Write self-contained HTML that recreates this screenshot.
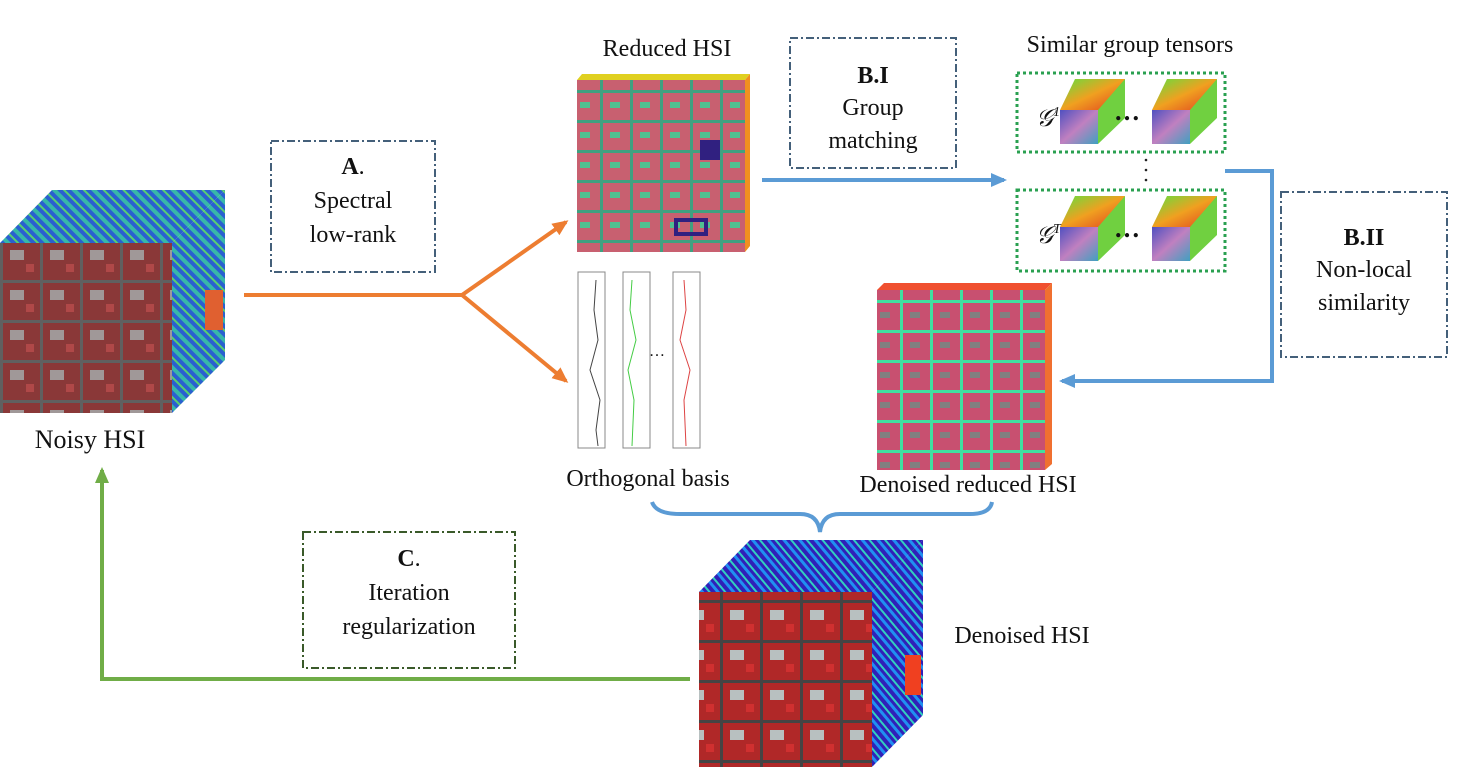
<!DOCTYPE html>
<html><head><meta charset="utf-8"><style>
html,body{margin:0;padding:0;background:#fff;}
svg text{font-family:"Liberation Serif",serif;fill:#111;}
</style></head><body>
<svg width="1466" height="767" viewBox="0 0 1466 767" xmlns="http://www.w3.org/2000/svg">
<defs>
<pattern id="stripes" width="14" height="14" patternUnits="userSpaceOnUse" patternTransform="rotate(-45)">
<rect width="14" height="14" fill="#2a60d0"/><rect width="4" height="14" fill="#38b8a8"/><rect x="8" width="2" height="14" fill="#58d070"/></pattern>
<pattern id="stripes2" width="12" height="12" patternUnits="userSpaceOnUse" patternTransform="rotate(-40)">
<rect width="12" height="12" fill="#3020b8"/><rect width="3" height="12" fill="#2090f0"/><rect x="6" width="2" height="12" fill="#30d0c0"/></pattern>
<pattern id="city" width="40" height="40" patternUnits="userSpaceOnUse">
<rect width="40" height="40" fill="#8a3838"/><rect x="0" y="0" width="40" height="3" fill="#606060"/><rect x="0" y="0" width="3" height="40" fill="#606060"/><rect x="10" y="10" width="14" height="10" fill="#a09898"/><rect x="26" y="24" width="8" height="8" fill="#b04848"/></pattern>
<pattern id="city2" width="40" height="40" patternUnits="userSpaceOnUse">
<rect width="40" height="40" fill="#b02828"/><rect x="0" y="0" width="40" height="3" fill="#444"/><rect x="0" y="0" width="3" height="40" fill="#444"/><rect x="10" y="10" width="14" height="10" fill="#b8c0c0"/><rect x="26" y="24" width="8" height="8" fill="#d03030"/></pattern>
<pattern id="red" width="30" height="30" patternUnits="userSpaceOnUse">
<rect width="30" height="30" fill="#c86070"/><rect width="30" height="3" fill="#40a080"/><rect width="3" height="30" fill="#40a080"/><rect x="10" y="12" width="10" height="6" fill="#50c090"/></pattern>
<pattern id="red2" width="30" height="30" patternUnits="userSpaceOnUse">
<rect width="30" height="30" fill="#c85070"/><rect width="30" height="3" fill="#40e0a0"/><rect width="3" height="30" fill="#40e0a0"/><rect x="10" y="12" width="10" height="6" fill="#808080"/></pattern>
<linearGradient id="cubeTop" x1="0" y1="0" x2="1" y2="1"><stop offset="0" stop-color="#60e040"/><stop offset="0.5" stop-color="#f0a020"/><stop offset="1" stop-color="#e04020"/></linearGradient>
<linearGradient id="cubeFront" x1="0" y1="0" x2="1" y2="1"><stop offset="0" stop-color="#5050c0"/><stop offset="0.5" stop-color="#c080c0"/><stop offset="1" stop-color="#40a0c0"/></linearGradient>
<marker id="ao" markerWidth="16" markerHeight="14" refX="13" refY="7" orient="auto" markerUnits="userSpaceOnUse"><path d="M0,0 L16,7 L0,14z" fill="#ed7d31"/></marker>
<marker id="ab" markerWidth="16" markerHeight="14" refX="13" refY="7" orient="auto" markerUnits="userSpaceOnUse"><path d="M0,0 L16,7 L0,14z" fill="#5b9bd5"/></marker>
<marker id="ag" markerWidth="16" markerHeight="14" refX="13" refY="7" orient="auto" markerUnits="userSpaceOnUse"><path d="M0,0 L16,7 L0,14z" fill="#70ad47"/></marker>
</defs>

<polygon points="0,243 52,190 225,190 172,243" fill="url(#stripes)"/>
<polygon points="172,243 225,190 225,360 172,413" fill="url(#stripes)"/>
<rect x="0" y="243" width="172" height="170" fill="url(#city)"/>
<rect x="205" y="290" width="18" height="40" fill="#e06030"/>
<text x="90" y="448" font-size="26" text-anchor="middle">Noisy HSI</text>

<rect x="271" y="141" width="164" height="131" fill="none" stroke="#44607a" stroke-width="2" stroke-dasharray="8,3,2,3"/>
<text x="353" y="174" font-size="24" text-anchor="middle"><tspan font-weight="bold">A</tspan>.</text>
<text x="353" y="208" font-size="24" text-anchor="middle">Spectral</text>
<text x="353" y="242" font-size="24" text-anchor="middle">low-rank</text>

<polyline points="244,295 462,295" stroke="#ed7d31" stroke-width="4" fill="none"/>
<line x1="462" y1="295" x2="566" y2="222" stroke="#ed7d31" stroke-width="4" marker-end="url(#ao)"/>
<line x1="462" y1="295" x2="566" y2="381" stroke="#ed7d31" stroke-width="4" marker-end="url(#ao)"/>

<text x="667" y="56" font-size="24" text-anchor="middle">Reduced HSI</text>
<polygon points="577,80 582,74 750,74 745,80" fill="#e0d020"/>
<polygon points="745,80 750,74 750,246 745,252" fill="#f09020"/>
<rect x="577" y="80" width="168" height="172" fill="url(#red)"/>
<rect x="700" y="140" width="20" height="20" fill="#302080"/>
<rect x="676" y="220" width="30" height="14" fill="none" stroke="#302080" stroke-width="4"/>

<rect x="578" y="272" width="27" height="176" fill="none" stroke="#888" stroke-width="1"/>
<rect x="623" y="272" width="27" height="176" fill="none" stroke="#888" stroke-width="1"/>
<rect x="673" y="272" width="27" height="176" fill="none" stroke="#888" stroke-width="1"/>
<polyline points="596,280 594,310 598,340 590,370 600,400 596,430 598,446" stroke="#444" fill="none"/>
<polyline points="632,280 630,310 636,340 628,370 634,400 632,446" stroke="#4c4" fill="none"/>
<polyline points="684,280 686,310 680,340 690,370 684,400 686,446" stroke="#d44" fill="none"/>
<text x="657" y="356" font-size="16" text-anchor="middle">…</text>
<text x="648" y="486" font-size="24" text-anchor="middle">Orthogonal basis</text>

<rect x="790" y="38" width="166" height="130" fill="none" stroke="#44607a" stroke-width="2" stroke-dasharray="8,3,2,3"/>
<text x="873" y="83" font-size="24" text-anchor="middle" font-weight="bold">B.I</text>
<text x="873" y="115" font-size="24" text-anchor="middle">Group</text>
<text x="873" y="148" font-size="24" text-anchor="middle">matching</text>
<line x1="762" y1="180" x2="1004" y2="180" stroke="#5b9bd5" stroke-width="4" marker-end="url(#ab)"/>

<text x="1130" y="52" font-size="24" text-anchor="middle">Similar group tensors</text>
<rect x="1017" y="73" width="208" height="79" fill="none" stroke="#2aa050" stroke-width="3" stroke-dasharray="3,3"/>
<rect x="1017" y="190" width="208" height="81" fill="none" stroke="#2aa050" stroke-width="3" stroke-dasharray="3,3"/>
<text x="1036" y="126" font-size="24" font-style="italic">𝒢<tspan font-size="14" dy="-10">1</tspan></text>
<text x="1036" y="243" font-size="24" font-style="italic">𝒢<tspan font-size="14" dy="-10">T</tspan></text>
<g id="gc">
<polygon points="1060,110 1075,79 1125,79 1110,110" fill="url(#cubeTop)"/>
<polygon points="1098,110 1125,79 1125,118 1098,144" fill="#70d040"/>
<rect x="1060" y="110" width="38" height="34" fill="url(#cubeFront)"/>
</g>
<use href="#gc" x="92"/>
<use href="#gc" y="117"/>
<use href="#gc" x="92" y="117"/>
<text x="1127" y="120" font-size="26" text-anchor="middle" font-weight="bold">…</text>
<text x="1127" y="237" font-size="26" text-anchor="middle" font-weight="bold">…</text>
<circle cx="1146" cy="160" r="1.3" fill="#222"/><circle cx="1146" cy="170" r="1.3" fill="#222"/><circle cx="1146" cy="180" r="1.3" fill="#222"/>

<polyline points="1225,171 1272,171 1272,381 1062,381" stroke="#5b9bd5" stroke-width="4" fill="none" marker-end="url(#ab)"/>

<rect x="1281" y="192" width="166" height="165" fill="none" stroke="#44607a" stroke-width="2" stroke-dasharray="8,3,2,3"/>
<text x="1364" y="245" font-size="24" text-anchor="middle" font-weight="bold">B.II</text>
<text x="1364" y="277" font-size="24" text-anchor="middle">Non-local</text>
<text x="1364" y="310" font-size="24" text-anchor="middle">similarity</text>

<polygon points="877,290 884,283 1052,283 1045,290" fill="#f05030"/>
<polygon points="1045,290 1052,283 1052,464 1045,470" fill="#f07030"/>
<rect x="877" y="290" width="168" height="180" fill="url(#red2)"/>
<text x="968" y="492" font-size="24" text-anchor="middle">Denoised reduced HSI</text>

<path d="M652,502 Q656,514 680,514 L800,514 Q818,514 820,532 Q822,514 840,514 L970,514 Q990,514 992,502" stroke="#5b9bd5" stroke-width="4" fill="none"/>

<polygon points="699,592 750,540 923,540 872,592" fill="url(#stripes2)"/>
<polygon points="872,592 923,540 923,715 872,767" fill="url(#stripes2)"/>
<rect x="905" y="655" width="16" height="40" fill="#f04020"/>
<rect x="699" y="592" width="173" height="175" fill="url(#city2)"/>
<text x="1022" y="643" font-size="24" text-anchor="middle">Denoised HSI</text>

<rect x="303" y="532" width="212" height="136" fill="none" stroke="#3a5a2a" stroke-width="2" stroke-dasharray="8,3,2,3"/>
<text x="409" y="566" font-size="24" text-anchor="middle"><tspan font-weight="bold">C</tspan>.</text>
<text x="409" y="600" font-size="24" text-anchor="middle">Iteration</text>
<text x="409" y="634" font-size="24" text-anchor="middle">regularization</text>

<polyline points="690,679 102,679 102,470" stroke="#70ad47" stroke-width="4" fill="none" marker-end="url(#ag)"/>
</svg>
</body></html>
